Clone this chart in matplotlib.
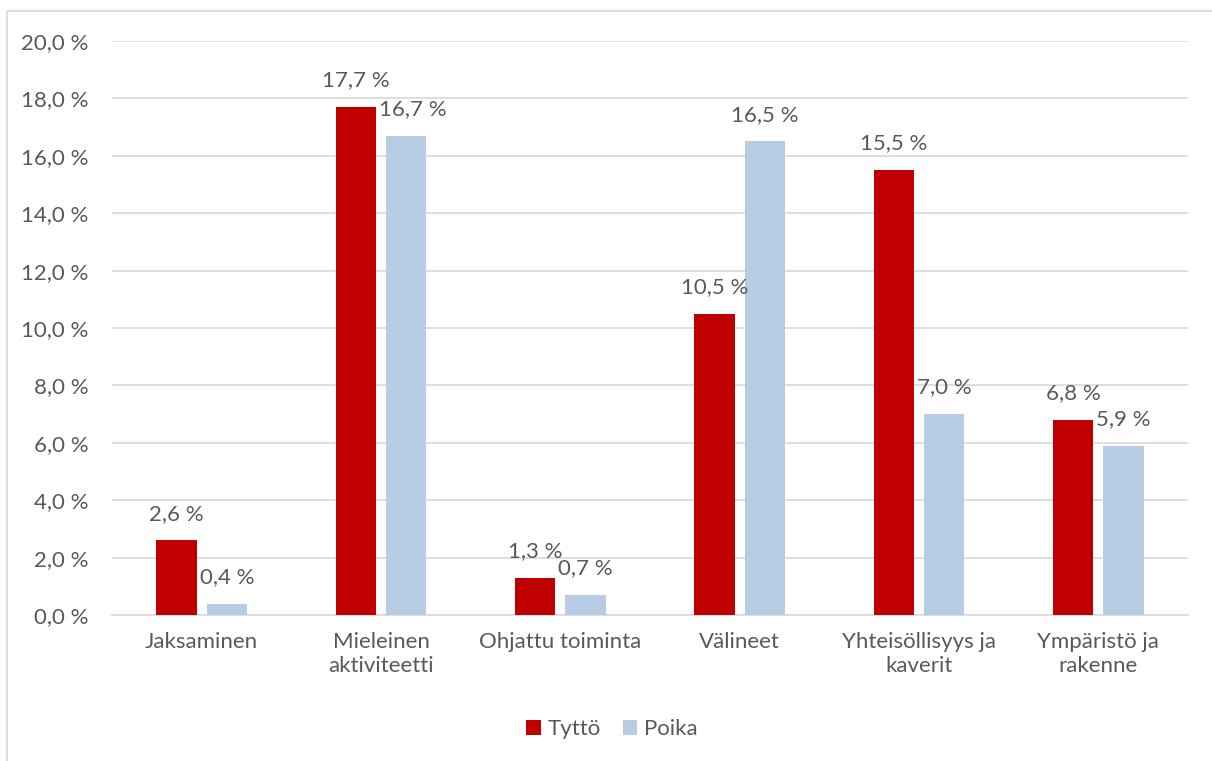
import matplotlib
matplotlib.use("Agg")
import matplotlib.pyplot as plt
from matplotlib.patches import Rectangle
import numpy as np

categories = ["Jaksaminen", "Mieleinen\naktiviteetti", "Ohjattu toiminta", "Välineet",
              "Yhteisöllisyys ja\nkaverit", "Ympäristö ja\nrakenne"]
tytto = [2.6, 17.7, 1.3, 10.5, 15.5, 6.8]
poika = [0.4, 16.7, 0.7, 16.5, 7.0, 5.9]
yticks = [0, 2, 4, 6, 8, 10, 12, 14, 16, 18, 20]

plt.rcParams['font.family'] = ['Lato', 'DejaVu Sans']
txt = '#595959'
fs = 16
fig = plt.figure(figsize=(12.12, 7.61), dpi=100)
fig.patches.append(Rectangle((7/1212, -0.01), 1.0, 1 - 11/761 + 0.01, transform=fig.transFigure,
                             fill=False, edgecolor='#d9d9d9', linewidth=1.2))
ax = fig.add_axes([112/1212, 1 - 615/761, (1188 - 112)/1212, (615 - 41)/761])

x = np.arange(len(categories))
w = 0.225
off = 0.14
b1 = ax.bar(x - off, tytto, w, color='#C00000', label='Tyttö', zorder=3)
b2 = ax.bar(x + off, poika, w, color='#B8CCE4', label='Poika', zorder=3)
for si, (bars, vals) in enumerate(((b1, tytto), (b2, poika))):
    for i, (b, v) in enumerate(zip(bars, vals)):
        dx = 5 if (si == 1 and i == 1) else 0
        ax.annotate(f"{v:.1f} %".replace('.', ','), (b.get_x() + b.get_width()/2, v),
                    xytext=(dx, 12), textcoords='offset points', ha='center', va='bottom',
                    fontsize=fs, color=txt)

ax.set_xlim(-0.5, len(categories) - 0.5)
ax.set_ylim(0, 20)
ax.set_yticks(yticks)
ax.set_yticklabels([f"{t:.1f} %".replace('.', ',') for t in yticks], fontsize=fs, color=txt)
ax.set_xticks(x)
ax.set_xticklabels(categories, fontsize=fs, color=txt, linespacing=1.3)
ax.tick_params(axis='both', length=0)
ax.tick_params(axis='y', pad=17)
ax.tick_params(axis='x', pad=12)
ax.grid(axis='y', color='#d9d9d9', linewidth=1.2, zorder=0)
for s in ['top', 'right', 'left']:
    ax.spines[s].set_visible(False)
ax.spines['bottom'].set_color('#d9d9d9')
ax.spines['bottom'].set_linewidth(1.2)

fig.legend(handles=[b1, b2], labels=['Tyttö', 'Poika'], loc='center', bbox_to_anchor=(612/1212, 1 - 729/761),
           ncol=2, frameon=False, fontsize=fs, labelcolor=txt, handlelength=0.65, handleheight=0.65,
           handletextpad=0.3, columnspacing=1.0)

fig.savefig('out.png', dpi=100)
